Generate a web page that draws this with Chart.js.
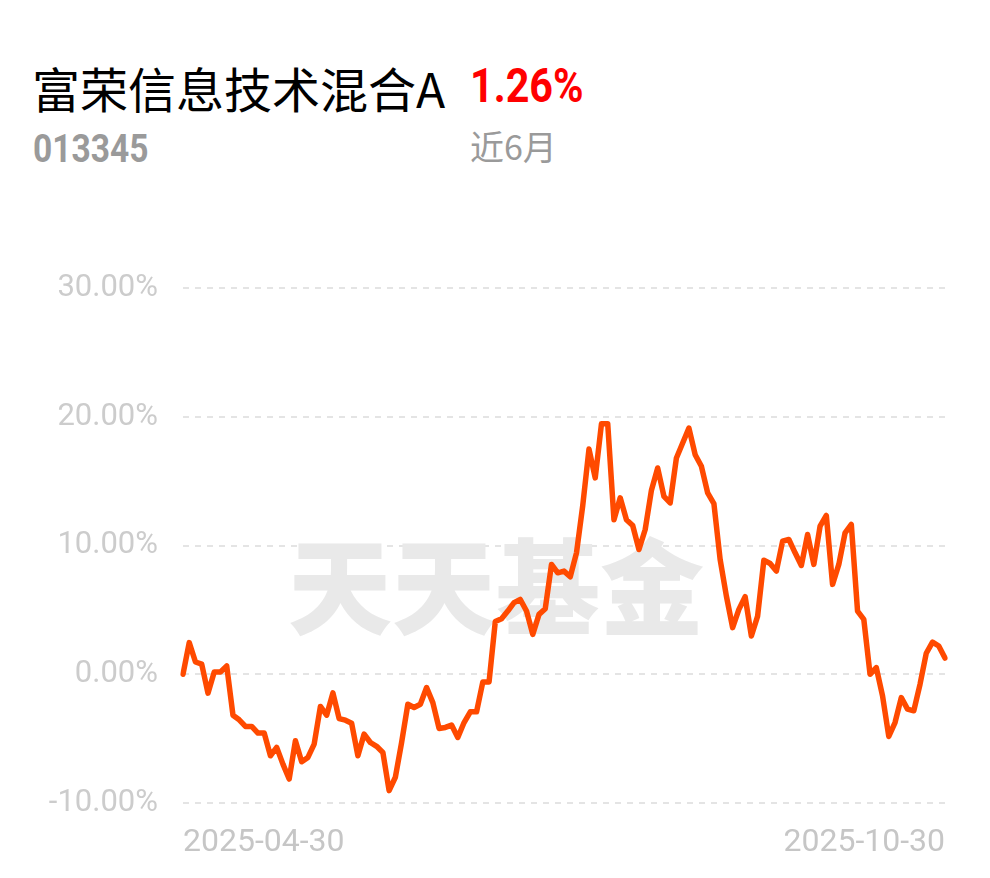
<!DOCTYPE html>
<html>
<head>
<meta charset="utf-8">
<script src="https://cdn.jsdelivr.net/npm/chart.js@4.4.1/dist/chart.umd.min.js"></script>
<style>
  html, body { margin: 0; padding: 0; background: #fff; }
  body { width: 990px; height: 878px; position: relative; overflow: hidden; }
  .t { position: absolute; white-space: nowrap; line-height: 1; }
  #name { left: 32px; top: 52px; font: 48px "Noto Sans CJK SC"; color: #000; }
  #pct { left: 470px; top: 57px; font: bold 48px Roboto; color: #ff0000; transform: scaleX(0.86); transform-origin: left top; }
  #code { left: 33px; top: 126px; font: bold 39px Roboto; color: #9a9a9a; transform: scaleX(0.86); transform-origin: left top; }
  #period { left: 470px; top: 121px; font: 34px "Noto Sans CJK SC"; color: #9a9a9a; }
  #wrap { position: absolute; left: 0; top: 0; width: 990px; height: 878px; }
</style>
</head>
<body>
<div class="t" id="name">富荣信息技术混合A</div>
<div class="t" id="pct">1.26%</div>
<div class="t" id="code">013345</div>
<div class="t" id="period">近6月</div>
<div id="wrap"><canvas id="myChart"></canvas></div>
<script>
// 近6月 累计收益率 (%)
var dates = ['2025-04-30', '2025-10-30'];
var returns = [
  0, 2.46, 0.95, 0.78, -1.47, 0.18, 0.18, 0.64, -3.18, -3.54,
  -4.05, -4.05, -4.57, -4.57, -6.33, -5.68, -6.98, -8.14, -5.17, -6.8,
  -6.46, -5.43, -2.5, -3.18, -1.45, -3.44, -3.57, -3.8, -6.33, -4.65,
  -5.3, -5.6, -6.07, -9.04, -8.0, -5.3, -2.33, -2.58, -2.33, -1.03,
  -2.2, -4.21, -4.13, -3.95, -4.91, -3.75, -2.92, -2.92, -0.6, -0.6,
  4.1, 4.32, 4.91, 5.56, 5.81, 4.91, 3.1, 4.65, 5.09, 8.53,
  7.88, 8.01, 7.57, 9.43, 13.1, 17.49, 15.25, 19.46, 19.46, 12.0,
  13.7, 12.0, 11.55, 9.69, 11.24, 14.3, 16.02, 13.82, 13.31, 16.8,
  17.96, 19.12, 17.05, 16.15, 14.08, 13.26, 8.91, 6.07, 3.62, 5.04,
  6.02, 2.97, 4.52, 8.86, 8.6, 8.01, 10.33, 10.47, 9.43, 8.45,
  10.85, 8.53, 11.5, 12.33, 6.98, 8.53, 10.98, 11.63, 4.91, 4.26,
  0, 0.52, -1.68, -4.83, -3.75, -1.81, -2.71, -2.84, -0.78, 1.63,
  2.5, 2.19, 1.26
];
var yTicks = [-10, 0, 10, 20, 30];

var labels = [];
for (var i = 0; i < returns.length; i++) {
  if (i == 0) labels.push(dates[0]);
  else if (i == returns.length - 1) labels.push(dates[1]);
  else labels.push('');
}

var watermark = {
  id: 'watermark',
  beforeDatasetsDraw: function (chart) {
    var ctx = chart.ctx;
    ctx.save();
    ctx.font = '900 104px "Noto Sans CJK SC"';
    ctx.fillStyle = '#e9e9e9';
    ctx.textAlign = 'center';
    ctx.textBaseline = 'middle';
    ctx.fillText('天天基金', 496, 587);
    ctx.restore();
  }
};

var ctx = document.getElementById('myChart').getContext('2d');
var myChart = new Chart(ctx, {
  type: 'line',
  data: {
    labels: labels,
    datasets: [{
      data: returns,
      borderColor: '#ff4a00',
      borderWidth: 5.5,
      pointRadius: 0,
      tension: 0,
      borderJoinStyle: 'round',
      borderCapStyle: 'round',
      fill: false
    }]
  },
  options: {
    responsive: true,
    maintainAspectRatio: false,
    animation: false,
    events: [],
    layout: { padding: { left: 0, right: 45, top: 288, bottom: 0 } },
    plugins: { legend: { display: false }, tooltip: { enabled: false } },
    scales: {
      x: {
        grid: { display: false },
        border: { display: false },
        ticks: {
          autoSkip: false,
          maxRotation: 0,
          align: 'inner',
          padding: 13,
          color: '#c6c6c6',
          font: { family: 'Roboto', size: 32 }
        },
        afterFit: function (scale) { scale.height = 75; }
      },
      y: {
        min: -10,
        max: 30,
        afterBuildTicks: function (scale) {
          scale.ticks = yTicks.map(function (v) { return { value: v }; });
        },
        grid: {
          color: '#e4e4e4',
          lineWidth: 2,
          drawTicks: false
        },
        border: { display: false, dash: [6, 6] },
        ticks: {
          padding: 25,
          color: '#cccccc',
          font: { family: 'Roboto', size: 31 },
          callback: function (v) { return v.toFixed(2) + '%'; }
        },
        afterFit: function (scale) { scale.width = 183; }
      }
    }
  },
  plugins: [watermark]
});
</script>
</body>
</html>
